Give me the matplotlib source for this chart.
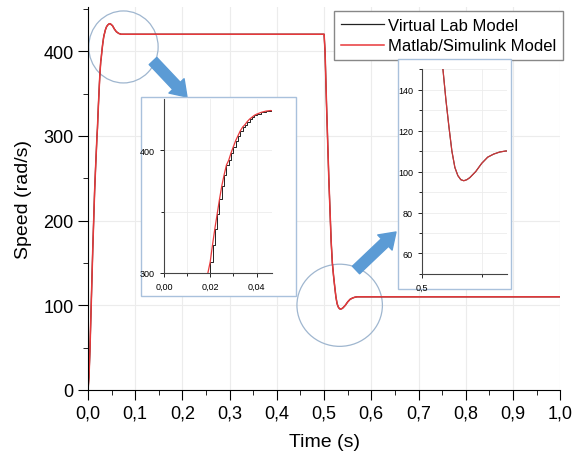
import matplotlib
matplotlib.use("Agg")
import matplotlib.pyplot as plt
from matplotlib.patches import Ellipse, Rectangle, FancyArrowPatch
from matplotlib.ticker import MultipleLocator, FuncFormatter

plt.rcParams['font.family'] = ['Liberation Sans', 'DejaVu Sans']

# Speed response (time in s, speed in rad/s)
time_s = [0.0, 0.002, 0.004, 0.006, 0.008, 0.010, 0.012, 0.014, 0.016, 0.018,
          0.019, 0.020, 0.021, 0.022, 0.023, 0.024, 0.025, 0.026, 0.027, 0.028,
          0.029, 0.030, 0.031, 0.032, 0.033, 0.034, 0.035, 0.036, 0.037, 0.038,
          0.039, 0.040, 0.042, 0.044, 0.046, 0.048, 0.052, 0.056, 0.060, 0.065,
          0.070, 0.080, 0.300, 0.500,
          0.502, 0.505, 0.510, 0.515, 0.5175, 0.520, 0.5225, 0.525, 0.5275, 0.530,
          0.5325, 0.535, 0.5375, 0.540, 0.545, 0.550, 0.555, 0.560, 0.565, 0.570,
          0.580, 0.800, 1.0]
speed = [0, 15, 45, 85, 125, 165, 200, 235, 262, 287,
         300, 309, 323, 336, 348, 360, 371, 380, 388, 392,
         398, 403, 408, 412, 416, 419, 421, 423.5, 425.5, 427,
         428.5, 429.5, 431, 432, 432.5, 432, 430, 426, 423, 421,
         420, 420, 420, 420,
         400, 340, 250, 175, 150, 135, 122, 110, 102, 98,
         96, 95.5, 96, 97, 100, 104, 107, 108.5, 109.5, 110,
         110, 110, 110]

lab_color = '#222222'
sim_color = '#e8383a'
box_color = '#a9c1dc'
arrow_color = '#5b9bd5'

def comma(x, pos):
    return ('%g' % x).replace('.', ',')

fig = plt.figure(figsize=(5.73, 4.52), dpi=100)
ax = fig.add_axes([0.1536, 0.135, 0.824, 0.847])
ax.plot(time_s, speed, color=lab_color, lw=0.9, label='Virtual Lab Model')
ax.plot(time_s, speed, color=sim_color, lw=1.1, label='Matlab/Simulink Model')
ax.set_xlim(0, 1.0)
ax.set_ylim(0, 452)
ax.xaxis.set_major_locator(MultipleLocator(0.1))
ax.xaxis.set_minor_locator(MultipleLocator(0.05))
ax.yaxis.set_major_locator(MultipleLocator(100))
ax.yaxis.set_minor_locator(MultipleLocator(50))
ax.xaxis.set_major_formatter(FuncFormatter(lambda x, p: ('%.1f' % x).replace('.', ',')))
ax.tick_params(which='major', direction='out', length=7, labelsize=13)
ax.tick_params(which='minor', direction='out', length=3.5)
for s in ['top', 'right']:
    ax.spines[s].set_visible(False)
ax.grid(True, which='major', color='#ececec', lw=0.8)
ax.set_axisbelow(True)
ax.set_xlabel('Time (s)', fontsize=14, labelpad=8)
ax.set_ylabel('Speed (rad/s)', fontsize=14, labelpad=8)
ax.legend(loc='upper right', bbox_to_anchor=(1.005, 0.99), fontsize=12, frameon=True,
          fancybox=False, edgecolor='#888888', framealpha=1, handlelength=2.6,
          handletextpad=0.2, borderpad=0.4, labelspacing=0.35, borderaxespad=0)

# zoom circles
ax.add_patch(Ellipse((0.075, 405), 0.147, 85, fill=False, ec='#9fb6cf', lw=0.9))
ax.add_patch(Ellipse((0.533, 100), 0.181, 97, fill=False, ec='#9fb6cf', lw=0.9))

# arrows (figure fraction)
arrow_style = 'simple,tail_width=0.75,head_width=1.5,head_length=1.1'
fig.patches.append(FancyArrowPatch((153 / 573, 1 - 62 / 452), (187 / 573, 1 - 98 / 452),
                                   arrowstyle=arrow_style, mutation_scale=10, color=arrow_color,
                                   transform=fig.transFigure, figure=fig,
                                   shrinkA=0, shrinkB=0))
fig.patches.append(FancyArrowPatch((356 / 573, 1 - 271 / 452), (396 / 573, 1 - 233 / 452),
                                   arrowstyle=arrow_style, mutation_scale=10, color=arrow_color,
                                   transform=fig.transFigure, figure=fig,
                                   shrinkA=0, shrinkB=0))

# inset frames
fig.patches.append(Rectangle((0.246, 0.343), 0.2705, 0.440, fc='white', ec=box_color, lw=1.0,
                             transform=fig.transFigure, figure=fig, zorder=2))
fig.patches.append(Rectangle((0.6946, 0.358), 0.197, 0.509, fc='white', ec=box_color, lw=1.0,
                             transform=fig.transFigure, figure=fig, zorder=2))

def style_inset(a):
    for s in ['top', 'right']:
        a.spines[s].set_visible(False)
    a.spines['left'].set_color('#444444')
    a.spines['bottom'].set_color('#444444')
    a.tick_params(which='major', direction='out', length=3, labelsize=6.5, width=0.6)
    a.tick_params(which='minor', direction='out', length=2, width=0.6)
    a.grid(True, which='both', color='#ececec', lw=0.6)
    a.set_axisbelow(True)
    a.patch.set_alpha(0)

ins1 = fig.add_axes([0.286, 0.394, 0.188, 0.385], zorder=5)
ins1.plot(time_s, speed, color=lab_color, lw=0.7, drawstyle='steps-post')
ins1.plot(time_s, speed, color=sim_color, lw=0.9)
ins1.set_xlim(0, 0.0465)
ins1.set_ylim(300, 442)
ins1.xaxis.set_major_locator(MultipleLocator(0.02))
ins1.xaxis.set_minor_locator(MultipleLocator(0.01))
ins1.yaxis.set_major_locator(MultipleLocator(100))
ins1.yaxis.set_minor_locator(MultipleLocator(50))
ins1.xaxis.set_major_formatter(FuncFormatter(lambda x, p: ('%.2f' % x).replace('.', ',')))
style_inset(ins1)

ins2 = fig.add_axes([0.7365, 0.3916, 0.148, 0.4535], zorder=5)
ins2.plot(time_s, speed, color=lab_color, lw=0.8)
ins2.plot(time_s, speed, color=sim_color, lw=0.9, alpha=0.85)
ins2.set_xlim(0.5, 0.571)
ins2.set_ylim(50, 150)
ins2.xaxis.set_major_locator(MultipleLocator(0.1))
ins2.xaxis.set_minor_locator(MultipleLocator(0.05))
ins2.yaxis.set_major_locator(MultipleLocator(20))
ins2.yaxis.set_minor_locator(MultipleLocator(10))
ins2.xaxis.set_major_formatter(FuncFormatter(comma))
style_inset(ins2)

fig.savefig('out.png', dpi=100)
